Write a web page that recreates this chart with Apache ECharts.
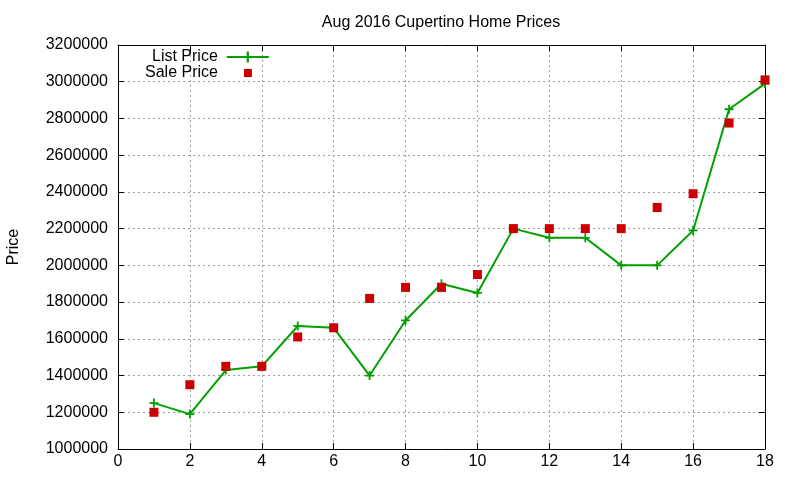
<!DOCTYPE html>
<html>
<head>
<meta charset="utf-8">
<script src="https://cdn.jsdelivr.net/npm/echarts@6/dist/echarts.min.js"></script>
<style>
  html, body { margin: 0; padding: 0; background: #fff; }
  #chart { width: 800px; height: 480px; }
</style>
</head>
<body>
<div id="chart"></div>
<script>
const days = [1, 2, 3, 4, 5, 6, 7, 8, 9, 10, 11, 12, 13, 14, 15, 16, 17, 18]
const listPrice = [1250000, 1190000, 1430000, 1450000, 1670000, 1660000, 1400000, 1700000, 1900000,
  1850000, 2200000, 2150000, 2150000, 2000000, 2000000, 2190000, 2850000, 2990000]
const salePrice = [1200000, 1350000, 1450000, 1450000, 1610000, 1660000, 1820000, 1880000, 1880000,
  1950000, 2200000, 2200000, 2200000, 2200000, 2315000, 2390000, 2775000, 3010000]

const font = 'Liberation Sans, Arial, sans-serif'
const plus = 'path://M4,0H6V4H10V6H6V10H4V6H0V4H4Z'
const gridLine = { show: true, lineStyle: { color: '#a0a0a0', type: [2, 3], width: 1 } }
const labelStyle = { fontFamily: font, fontSize: 16, color: '#000' }

const chart = echarts.init(document.getElementById('chart'))

// main axes carry labels, the mirrored ones only carry ticks (gnuplot style box)
const axisBase = {
  type: 'value',
  axisLine: { show: true, onZero: false, lineStyle: { color: '#000', width: 1 } },
  axisTick: { show: true, inside: true, length: 6, lineStyle: { color: '#000' } }
}

const option = {
  animation: false,
  title: {
    text: 'Aug 2016 Cupertino Home Prices',
    left: 436,
    top: 10,
    textAlign: 'center',
    textStyle: { fontFamily: font, fontSize: 16, fontWeight: 'normal', color: '#000' }
  },
  legend: [
    {
      left: 152,
      top: 49,
      padding: 0,
      align: 'right',
      itemWidth: 42,
      itemHeight: 14,
      textStyle: Object.assign({ padding: [0, 4, 0, 0], lineHeight: 16 }, labelStyle),
      data: ['List Price']
    },
    {
      left: 145,
      top: 65,
      padding: 0,
      align: 'right',
      itemWidth: 8,
      itemHeight: 8,
      textStyle: Object.assign({ padding: [0, 21, 0, 0], lineHeight: 16 }, labelStyle),
      data: ['Sale Price']
    }
  ],
  grid: { left: 118, right: 35, top: 45, bottom: 31, outerBoundsMode: 'none' },
  xAxis: [
    Object.assign({}, axisBase, {
      min: 0, max: 18, interval: 2,
      axisLabel: Object.assign({ margin: 5 }, labelStyle),
      splitLine: gridLine
    }),
    Object.assign({}, axisBase, {
      position: 'top', min: 0, max: 18, interval: 2,
      axisLabel: { show: false }, splitLine: { show: false }
    })
  ],
  yAxis: [
    Object.assign({}, axisBase, {
      min: 1000000, max: 3200000, interval: 200000,
      name: 'Price',
      nameLocation: 'middle',
      nameGap: 96,
      nameTextStyle: labelStyle,
      axisLabel: Object.assign({ margin: 10, formatter: v => String(v) }, labelStyle),
      splitLine: gridLine
    }),
    Object.assign({}, axisBase, {
      position: 'right', min: 1000000, max: 3200000, interval: 200000,
      axisLabel: { show: false }, splitLine: { show: false }
    })
  ],
  series: [
    {
      name: 'List Price',
      type: 'line',
      data: days.map((d, i) => [d, listPrice[i]]),
      symbol: plus,
      symbolSize: 9,
      showAllSymbol: true,
      lineStyle: { color: '#00a000', width: 2 },
      itemStyle: { color: '#00a000' },
      z: 2
    },
    {
      name: 'Sale Price',
      type: 'scatter',
      data: days.map((d, i) => [d, salePrice[i]]),
      symbol: 'rect',
      symbolSize: 9,
      itemStyle: { color: '#cc0000', opacity: 1 },
      z: 3
    }
  ]
}

chart.setOption(option)
</script>
</body>
</html>
